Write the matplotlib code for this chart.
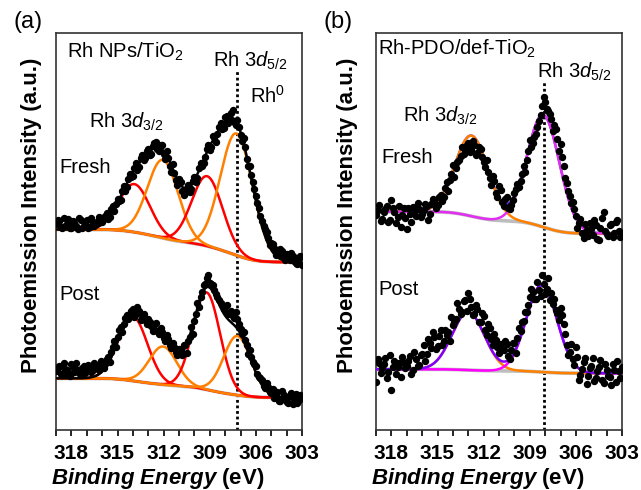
import numpy as np
import matplotlib.pyplot as plt

plt.rcParams['font.family'] = ['Liberation Sans', 'DejaVu Sans']
plt.rcParams['mathtext.fontset'] = 'custom'
plt.rcParams['mathtext.rm'] = 'Liberation Sans'
plt.rcParams['mathtext.it'] = 'Liberation Sans:italic'
plt.rcParams['mathtext.bf'] = 'Liberation Sans:bold'
plt.rcParams['mathtext.bfit'] = 'Liberation Sans:bold:italic'

# binding energy of the measured points (eV): two interleaved 0.2 eV grids
energy = np.round(np.arange(319.0, 302.99, -0.2), 1)
energy_mid = np.round(np.arange(318.9, 303.0, -0.2), 1)

a_fresh_pts = [51.8, 52.6, 50.9, 51.4, 53.2, 51.0, 52.1, 50.6, 52.8, 51.3,
               53.0, 51.2, 52.4, 51.9, 53.6, 52.4, 54.0, 53.1, 55.6, 55.2,
               58.3, 58.0, 61.5, 61.2, 64.4, 64.0, 67.2, 66.3, 69.2, 68.4,
               70.9, 69.6, 72.4, 70.8, 71.8, 69.5, 70.2, 66.6, 66.9, 62.9,
               63.1, 60.1, 59.6, 61.8, 60.7, 63.8, 63.6, 67.2, 67.3, 70.8,
               70.6, 74.0, 72.6, 76.4, 75.9, 78.9, 77.4, 79.8, 77.6, 78.2,
               74.3, 73.6, 68.2, 66.4, 62.5, 58.9, 56.0, 52.7, 50.6, 48.4,
               47.1, 45.9, 44.9, 45.6, 43.6, 44.4, 42.8, 43.9, 42.1, 43.4, 41.6]
a_fresh_mid = [52.9, 51.1, 53.4, 52.0, 50.8, 52.7, 51.5, 53.5, 51.0, 52.2,
               50.9, 53.3, 51.3, 52.7, 52.9, 53.5, 54.6, 53.7, 56.4, 57.0,
               57.6, 60.2, 60.3, 63.2, 63.8, 66.0, 65.4, 68.4, 67.9, 70.3,
               69.2, 71.5, 72.6, 70.2, 71.9, 68.3, 68.5, 65.0, 64.8, 61.8,
               62.4, 59.3, 61.0, 60.0, 62.7, 62.4, 65.9, 66.5, 68.8, 71.9,
               71.4, 73.9, 74.6, 77.3, 76.0, 79.0, 78.0, 80.6, 76.8, 76.4,
               72.9, 71.2, 66.5, 64.2, 60.6, 57.1, 54.0, 51.4, 49.8, 46.5,
               46.8, 44.2, 44.0, 45.1, 42.9, 43.5, 44.6, 42.6, 41.9, 43.8]
a_post_pts = [14.8, 16.2, 13.9, 15.4, 14.1, 16.6, 14.6, 15.2, 13.8, 16.0,
              14.9, 15.8, 15.1, 16.4, 15.0, 16.9, 16.6, 18.3, 19.6, 22.4,
              23.4, 26.0, 26.8, 28.9, 29.2, 30.6, 29.1, 30.0, 28.3, 27.8,
              27.9, 26.1, 26.5, 24.9, 25.6, 23.2, 23.9, 21.4, 21.8, 19.6,
              20.3, 18.9, 21.5, 22.3, 26.0, 27.5, 32.0, 33.6, 36.4, 38.2,
              37.0, 36.6, 34.3, 32.8, 31.6, 30.9, 29.2, 30.1, 28.3, 28.0,
              25.4, 24.6, 21.3, 20.1, 17.2, 16.0, 13.4, 12.5, 10.6, 10.9,
              9.2, 8.0, 9.6, 7.4, 8.9, 7.0, 8.6, 6.5, 9.1, 7.6, 8.4]
a_post_mid = [15.6, 14.2, 16.8, 15.0, 13.6, 15.9, 16.9, 14.3, 15.5, 14.4,
              16.3, 14.6, 16.9, 15.7, 17.4, 15.5, 17.9, 17.2, 20.8, 21.0,
              25.1, 24.6, 28.3, 27.9, 30.0, 28.5, 30.9, 27.6, 29.2, 26.8,
              27.2, 25.0, 26.9, 24.2, 24.6, 22.4, 22.9, 20.6, 20.9, 18.8,
              19.9, 21.4, 19.5, 23.5, 24.2, 29.1, 30.9, 34.8, 36.8, 39.1,
              36.9, 35.2, 33.6, 31.9, 30.5, 31.4, 29.4, 28.8, 29.6, 26.8,
              24.3, 22.6, 19.1, 18.4, 16.6, 14.2, 13.1, 11.2, 11.9, 9.6,
              10.4, 8.8, 7.2, 9.8, 8.1, 6.8, 9.4, 7.9, 6.9, 8.8]
b_fresh_pts = [54.2, 56.8, 53.1, 55.6, 52.4, 58.0, 54.9, 53.6, 51.2, 55.8,
               50.6, 54.3, 56.1, 53.9, 55.7, 54.4, 57.0, 52.8, 56.9, 57.6,
               56.8, 59.3, 58.6, 62.4, 62.9, 66.8, 66.0, 68.1, 71.3, 70.2,
               72.4, 70.6, 71.7, 69.8, 70.9, 67.6, 67.9, 63.5, 63.9, 59.8,
               61.5, 57.4, 58.2, 55.9, 56.8, 59.6, 61.9, 62.8, 66.4, 67.9,
               73.1, 72.4, 74.6, 77.9, 81.5, 82.6, 80.3, 78.4, 76.9, 73.2,
               72.0, 66.4, 62.1, 59.0, 57.5, 53.8, 52.1, 49.6, 51.8, 48.9,
               50.6, 52.9, 48.2, 50.9, 54.8, 49.3, 51.7, 48.6, 52.4, 50.0, 49.2]
b_fresh_mid = [55.3, 52.6, 54.8, 56.5, 53.0, 55.9, 52.1, 56.4, 54.2, 53.3,
               55.9, 52.4, 54.8, 57.2, 53.6, 55.4, 56.3, 54.5, 58.1, 56.0,
               58.7, 57.6, 60.9, 60.2, 64.6, 63.8, 67.4, 68.9, 69.5, 71.8,
               70.1, 72.9, 69.3, 71.2, 68.8, 66.2, 65.1, 61.6, 62.8, 58.6,
               60.4, 56.5, 58.8, 55.6, 57.9, 60.6, 61.2, 64.5, 65.1, 70.4,
               71.3, 73.8, 76.2, 79.4, 83.9, 80.9, 79.6, 75.4, 75.8, 70.3,
               68.7, 63.4, 60.3, 57.2, 55.6, 50.8, 53.2, 48.4, 50.3, 52.1,
               49.0, 51.6, 47.9, 53.5, 50.2, 48.8, 51.9, 49.7, 53.0, 48.5]
b_post_pts = [12.1, 16.8, 15.6, 18.2, 14.7, 10.1, 17.3, 15.9, 13.4, 17.0,
              16.2, 18.6, 15.1, 17.8, 16.4, 19.2, 17.5, 22.8, 20.6, 23.4,
              21.1, 25.2, 22.4, 24.0, 22.3, 26.4, 27.9, 30.6, 29.8, 32.7,
              34.6, 31.0, 29.3, 30.4, 27.1, 28.6, 23.9, 25.8, 21.4, 22.6,
              19.3, 20.4, 22.5, 18.7, 20.2, 21.8, 23.1, 24.9, 27.4, 29.6,
              33.4, 34.8, 32.9, 35.2, 39.0, 34.2, 38.3, 34.6, 33.1, 29.5,
              30.8, 26.7, 21.4, 19.6, 17.8, 20.9, 12.6, 15.4, 18.1, 13.7,
              16.0, 12.3, 14.9, 17.6, 11.8, 15.2, 13.4, 16.5, 12.0, 14.8, 15.9]
b_post_mid = [17.9, 14.3, 16.5, 13.0, 18.9, 15.8, 14.1, 16.9, 18.4, 15.5,
              17.4, 14.2, 19.6, 16.0, 18.8, 21.4, 19.1, 21.9, 24.6, 20.3,
              23.7, 21.5, 25.3, 24.8, 28.5, 27.3, 31.9, 29.1, 32.4, 30.0,
              33.1, 28.9, 31.5, 27.2, 29.4, 25.1, 26.6, 23.0, 24.3, 20.8,
              21.7, 20.1, 21.6, 17.9, 22.0, 19.5, 25.6, 27.2, 29.8, 31.6,
              35.6, 33.0, 37.4, 33.7, 36.9, 35.5, 32.8, 31.7, 30.2, 27.6,
              28.9, 24.2, 19.0, 21.6, 16.4, 18.5, 13.9, 17.2, 11.7, 15.6,
              18.2, 13.1, 15.8, 12.5, 16.7, 13.6, 11.4, 15.0, 17.3, 13.2]

# fitted components: (center eV, height, sigma eV)
a_fresh_fit = [(313.9, 12.1, 1.0), (312.05, 19.7, 1.0), (309.17, 17.6, 1.0), (307.26, 30.7, 1.05)]
a_post_fit = [(314.0, 16.2, 0.95), (312.04, 9.6, 0.9), (309.21, 24.5, 0.88), (307.2, 14.9, 0.9)]
b_fresh_fit = [(312.78, 20.3, 1.08), (308.11, 28.3, 1.05)]
b_post_fit = [(313.0, 14.6, 1.05), (308.22, 21.9, 1.0)]

# Shirley background level at 319 eV and at 303 eV
a_fresh_bg = (50.5, 42.3)
a_post_bg = (13.0, 8.2)
b_fresh_bg = (55.0, 49.5)
b_post_bg = (15.3, 14.3)

fine = np.linspace(319.2, 302.8, 800)


def gauss(x, c, h, s):
    return h * np.exp(-0.5 * ((x - c) / s) ** 2)


def shirley(x, peaks, left, right):
    tot = sum(gauss(x, *p) for p in peaks)
    acc = np.cumsum(tot[::-1])[::-1]
    return right + (left - right) * acc / acc[0]


def draw_fit(ax, peaks, bg, colors, env_color, env_top):
    b = shirley(fine, peaks, *bg)
    ax.plot(fine, b, color='#bdbdbd', lw=2.6, zorder=2)
    for p, c in zip(peaks, colors):
        ax.plot(fine, b + gauss(fine, *p), color=c, lw=1.8, zorder=3)
    env = b + sum(gauss(fine, *p) for p in peaks)
    ax.plot(fine, env, color=env_color, lw=1.8, zorder=4 if env_top else 2.5)


fig = plt.figure(figsize=(6.41, 4.90), dpi=100)
ax_a = fig.add_axes([56 / 641, 60 / 490, 246 / 641, 397 / 490])
ax_b = fig.add_axes([376 / 641, 60 / 490, 246 / 641, 397 / 490])

red, orange = '#ff0000', '#ff8000'
draw_fit(ax_a, a_fresh_fit, a_fresh_bg, [red, orange, red, orange], 'black', True)
draw_fit(ax_a, a_post_fit, a_post_bg, [red, orange, red, orange], 'black', True)
draw_fit(ax_b, b_fresh_fit, b_fresh_bg, [orange, '#e22ef0'], '#6a2cf5', False)
draw_fit(ax_b, b_post_fit, b_post_bg, [orange, '#ff00ff'], '#8000ff', True)

for ax, pts, mid in [(ax_a, a_fresh_pts, a_fresh_mid), (ax_a, a_post_pts, a_post_mid),
                     (ax_b, b_fresh_pts, b_fresh_mid), (ax_b, b_post_pts, b_post_mid)]:
    ax.plot(energy, pts, 'o', ms=4.3, color='black', zorder=5)
    ax.plot(energy_mid, mid, 'o', ms=4.3, color='black', zorder=5)

ax_a.axvline(307.2, ymax=0.907, color='black', lw=2, ls=(0, (1, 1)), zorder=1)
ax_b.axvline(308.1, ymax=0.88, color='black', lw=2, ls=(0, (1, 1)), zorder=1)

fs = 14.5
ax_a.text(318.26, 93.7, 'Rh NPs/TiO$_2$', fontsize=fs)
ax_a.text(308.8, 91.4, r'Rh 3$\mathit{d}_{5/2}$', fontsize=fs)
ax_a.text(306.39, 82.4, 'Rh$^0$', fontsize=fs)
ax_a.text(316.83, 76.1, r'Rh 3$\mathit{d}_{3/2}$', fontsize=fs)
ax_a.text(318.78, 64.7, 'Fresh', fontsize=fs)
ax_a.text(318.78, 32.7, 'Post', fontsize=fs)

ax_b.text(318.89, 94.5, 'Rh-PDO/def-TiO$_2$', fontsize=fs)
ax_b.text(308.52, 88.7, r'Rh 3$\mathit{d}_{5/2}$', fontsize=fs)
ax_b.text(317.26, 77.6, r'Rh 3$\mathit{d}_{3/2}$', fontsize=fs)
ax_b.text(318.63, 67.3, 'Fresh', fontsize=fs)
ax_b.text(318.83, 34.0, 'Post', fontsize=fs)

for ax, ylab_x in [(ax_a, -0.058), (ax_b, -0.072)]:
    ax.set_xlim(319, 303)
    ax.set_ylim(0, 100)
    ax.set_yticks([])
    ax.set_xticks(np.arange(318, 302, -3))
    ax.set_xticks(np.arange(319, 302, -1), minor=True)
    ax.tick_params(axis='x', which='both', direction='out', width=1.2, length=4.5,
                   labelsize=15, pad=5.5)
    for lab in ax.get_xticklabels():
        lab.set_fontweight('bold')
    for sp in ax.spines.values():
        sp.set_linewidth(1.2)
        sp.set_color('#333333')
    ax.set_xlabel(r'$\mathbfit{Binding\ Energy}$ (eV)', fontsize=16, fontweight='bold')
    ax.xaxis.set_label_coords(0.415, -0.0907)
    ax.set_ylabel('Photoemission Intensity (a.u.)', fontsize=16, fontweight='bold')
    ax.yaxis.set_label_coords(ylab_x, 0.54)

fig.text(28 / 641, 1 - 22 / 490, '(a)', fontsize=17, ha='center', va='center')
fig.text(338 / 641, 1 - 22 / 490, '(b)', fontsize=17, ha='center', va='center')

fig.savefig('out.png', dpi=100)
